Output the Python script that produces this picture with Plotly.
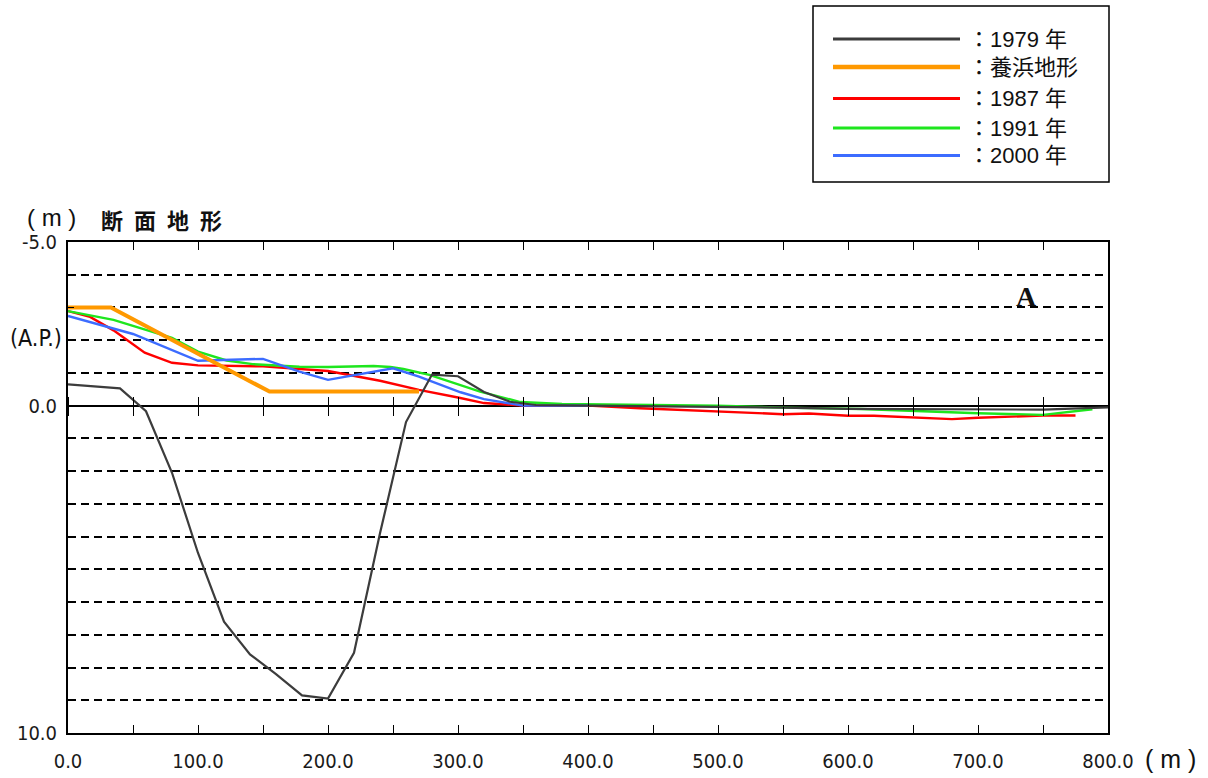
import plotly.graph_objects as go

# Cross-section survey profiles (distance in m, elevation in m A.P., positive = deeper)
x_1979 = [0, 20, 40, 60, 80, 100, 120, 140, 160, 180, 200, 220, 240, 260, 280, 300,
          320, 340, 360, 400, 450, 500, 550, 600, 650, 700, 750, 800]
y_1979 = [-0.65, -0.6, -0.53, 0.17, 2.05, 4.5, 6.6, 7.6, 8.2, 8.85, 8.95, 7.55, 3.9,
          0.5, -0.95, -0.9, -0.42, -0.12, -0.02, 0.0, 0.02, 0.03, 0.06, 0.1, 0.1,
          0.1, 0.12, 0.05]

x_fill = [0, 33, 155, 270]
y_fill = [-3.0, -3.0, -0.43, -0.43]

x_1987 = [0, 17, 35, 59, 80, 100, 150, 200, 240, 270, 300, 320, 350, 400, 440, 500,
          550, 570, 600, 620, 680, 700, 750, 775]
y_1987 = [-2.89, -2.71, -2.3, -1.62, -1.31, -1.23, -1.2, -1.06, -0.76, -0.48, -0.25,
          -0.08, 0.0, 0.0, 0.08, 0.18, 0.26, 0.24, 0.31, 0.31, 0.41, 0.37, 0.3, 0.3]

x_1991 = [0, 35, 80, 100, 122, 142, 178, 200, 235, 248, 258, 278, 317, 348, 380,
          440, 500, 550, 610, 700, 750, 788]
y_1991 = [-2.89, -2.62, -2.07, -1.65, -1.38, -1.27, -1.19, -1.18, -1.21, -1.18, -1.12,
          -0.94, -0.43, -0.11, -0.05, -0.02, 0.0, 0.06, 0.1, 0.23, 0.28, 0.11]

x_2000 = [0, 35, 50, 100, 150, 178, 200, 250, 270, 302, 320, 350, 400]
y_2000 = [-2.74, -2.36, -2.19, -1.37, -1.43, -1.04, -0.79, -1.14, -0.89, -0.41, -0.2,
          0.0, 0.0]

series = [
    ("：1979 年", x_1979, y_1979, "#3c3c3c", 2.2),
    ("：養浜地形", x_fill, y_fill, "#ff9900", 4.0),
    ("：1987 年", x_1987, y_1987, "#ff0000", 2.4),
    ("：1991 年", x_1991, y_1991, "#1ee61e", 2.4),
    ("：2000 年", x_2000, y_2000, "#3c6cff", 2.4),
]
draw_order = [2, 3, 4, 1, 0]

x_ticks = list(range(0, 801, 50))
x_ticktext = [f"{v:.1f}" if v % 100 == 0 else "" for v in x_ticks]
y_ticks = list(range(-5, 11))
y_ticktext = [f"{v:.1f}" if v in (-5, 0, 10) else "" for v in y_ticks]

W, H = 1208, 778
L, R, T, B = 68, 100, 242, 45
PW, PH = W - L - R, H - T - B


def px(x):
    return (x - L) / PW


def py(y):
    return (H - B - y) / PH


NARROW = "Liberation Sans Narrow, Arial Narrow, DejaVu Sans Condensed, sans-serif"
LEGEND_FONT = "Liberation Sans, Arial, Noto Sans CJK JP, sans-serif"

fig = go.Figure()
for i in draw_order:
    name, xs, ys, color, width = series[i]
    fig.add_trace(go.Scatter(x=xs, y=ys, mode="lines", name=name,
                             line=dict(color=color, width=width),
                             showlegend=False, hoverinfo="skip"))

# carrier traces for the tick marks crossing the datum line
fig.add_trace(go.Scatter(x=[0, 800], y=[0, 0], xaxis="x2", mode="none",
                         showlegend=False, hoverinfo="skip"))
fig.add_trace(go.Scatter(x=[0, 800], y=[0, 0], xaxis="x3", mode="none",
                         showlegend=False, hoverinfo="skip"))

fig.update_layout(
    width=W, height=H,
    margin=dict(l=L, r=R, t=T, b=B, pad=0, autoexpand=False),
    paper_bgcolor="white", plot_bgcolor="white",
    font=dict(family=NARROW, color="#1a1a1a"),
    xaxis=dict(range=[0, 800], tickvals=x_ticks, ticktext=x_ticktext,
               ticks="inside", ticklen=8, tickwidth=1.2, tickcolor="black",
               showline=True, linecolor="black", linewidth=2, mirror="ticks",
               showgrid=False, zeroline=False, automargin=False,
               tickfont=dict(size=20, family=NARROW, color="#1a1a1a"),
               ticklabelstandoff=9),
    xaxis2=dict(range=[0, 800], overlaying="x", anchor="free", position=10 / 15,
                side="bottom", tickvals=x_ticks, ticks="outside", ticklen=9,
                tickwidth=1.2, tickcolor="black", showticklabels=False,
                showline=False, showgrid=False, zeroline=False, automargin=False),
    xaxis3=dict(range=[0, 800], overlaying="x", anchor="free", position=10 / 15,
                side="top", tickvals=x_ticks, ticks="outside", ticklen=9,
                tickwidth=1.2, tickcolor="black", showticklabels=False,
                showline=False, showgrid=False, zeroline=False, automargin=False),
    yaxis=dict(range=[10, -5], tickvals=y_ticks, ticktext=y_ticktext,
               ticks="inside", ticklen=6, tickwidth=1.2, tickcolor="black",
               showline=True, linecolor="black", linewidth=2, mirror=True,
               showgrid=True, gridcolor="black", gridwidth=1.8, griddash="8px,5px",
               zeroline=True, zerolinecolor="black", zerolinewidth=2, automargin=False,
               tickfont=dict(size=20, family=NARROW, color="#1a1a1a"),
               ticklabelstandoff=5),
)

shapes = []
annotations = []

# legend box
shapes.append(dict(type="rect", xref="paper", yref="paper",
                   x0=px(813), x1=px(1109), y0=py(182), y1=py(6),
                   line=dict(color="black", width=1.5), fillcolor="white", layer="above"))
legend_rows = [39, 67, 98.5, 128, 155.5]
for (name, xs, ys, color, width), ry in zip(series, legend_rows):
    shapes.append(dict(type="line", xref="paper", yref="paper",
                       x0=px(833), x1=px(960), y0=py(ry), y1=py(ry),
                       line=dict(color=color, width=width + 0.6), layer="above"))
    annotations.append(dict(xref="paper", yref="paper", x=px(966), y=py(ry),
                            text=name, showarrow=False, xanchor="left",
                            yanchor="middle",
                            font=dict(family=LEGEND_FONT, size=22, color="#111111")))

# panel headings and unit labels
annotations += [
    dict(xref="paper", yref="paper", x=px(51), y=py(217), text="( m )",
         showarrow=False, xanchor="center", yanchor="middle",
         font=dict(family="Liberation Sans, Arial, sans-serif", size=24, color="#111111")),
    dict(xref="paper", yref="paper", x=px(99), y=py(219),
         text="断\u2002面\u2002地\u2002形",
         showarrow=False, xanchor="left", yanchor="middle",
         font=dict(family="Noto Sans CJK JP", size=22, color="#111111", weight="bold")),
    dict(xref="paper", yref="paper", x=px(36), y=py(338), text="(A.P.)",
         showarrow=False, xanchor="center", yanchor="middle",
         font=dict(family=NARROW, size=23, color="#111111")),
    dict(xref="paper", yref="paper", x=px(1170), y=py(759), text="( m )",
         showarrow=False, xanchor="center", yanchor="middle",
         font=dict(family="Liberation Sans, Arial, sans-serif", size=25, color="#111111")),
    dict(xref="paper", yref="paper", x=px(1026), y=py(296), text="<b>A</b>",
         showarrow=False, xanchor="center", yanchor="middle",
         font=dict(family="Liberation Serif, Times New Roman, serif", size=28, color="#111111")),
]

fig.update_layout(shapes=shapes, annotations=annotations)
fig.write_html("out.html")
